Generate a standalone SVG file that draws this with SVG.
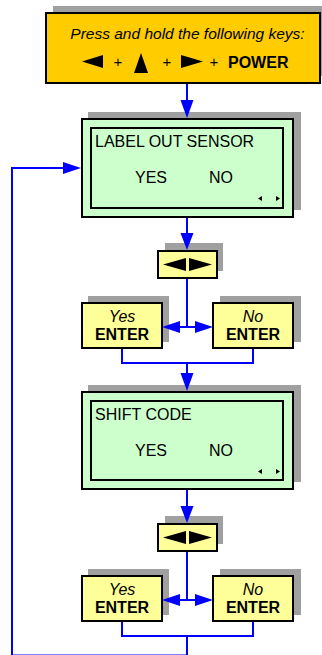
<svg xmlns="http://www.w3.org/2000/svg" width="322" height="655" viewBox="0 0 322 655">
<style>
text{font-family:"Liberation Sans",Arial,sans-serif;fill:#000}
.sh{fill:#a0a0a0}
.bx{stroke:#000;stroke-width:2}
.top{fill:#ffcc00}
.lcd{fill:#ccffcc}
.key{fill:#ffff99}
.c{stroke:#0000ff;stroke-width:2;fill:none}
.ah{fill:#0000ff}
.t15{font-size:16px}
.it{font-style:italic}
.b{font-weight:bold}
</style>
<rect width="322" height="655" fill="#fff"/>
<g id="start">
<rect class="sh" x="53" y="6" width="269" height="70"/>
<rect class="bx top" x="46" y="13" width="274" height="70"/>
<text x="187.5" y="39" font-size="15.5" font-style="italic" text-anchor="middle">Press and hold the following keys:</text>
<polygon points="82,61.5 103,55 103,68" fill="#000"/>
<text x="118" y="67" font-size="15" text-anchor="middle">+</text>
<polygon points="134,73 141,53 148,73" fill="#000"/>
<text x="167" y="67" font-size="15" text-anchor="middle">+</text>
<polygon points="181,55 203,61.5 181,68" fill="#000"/>
<text x="214" y="67" font-size="15" text-anchor="middle">+</text>
<text x="228" y="68" font-size="16" font-weight="bold">POWER</text>
</g>
<g id="lcd1">
<rect class="sh" x="88" y="112" width="213" height="98"/>
<rect class="bx lcd" x="82" y="119" width="211" height="98"/>
<rect class="bx lcd" x="91" y="128" width="192" height="80"/>
<text class="t15" x="95" y="147">LABEL OUT SENSOR</text>
<text class="t15" x="135" y="183">YES</text>
<text class="t15" x="209" y="183">NO</text>
<polygon points="258,198.5 262,196 262,201" fill="#000"/>
<polygon points="276,196 280,198.5 276,201" fill="#000"/>
</g>
<g id="nav1">
<rect class="sh" x="165" y="243" width="58" height="28"/>
<rect class="bx key" x="158" y="251" width="59" height="27"/>
<polygon points="163,264.5 186,258 186,271" fill="#000"/>
<polygon points="189,258 212,264.5 189,271" fill="#000"/>
</g>
<g id="yes1">
<rect class="sh" x="88" y="296" width="81" height="46"/>
<rect class="bx key" x="82" y="303" width="80" height="45"/>
<text class="t15 it" x="122" y="322" text-anchor="middle">Yes</text>
<text class="t15 b" x="122" y="340" text-anchor="middle">ENTER</text>
</g>
<g id="no1">
<rect class="sh" x="220" y="296" width="81" height="46"/>
<rect class="bx key" x="213" y="303" width="80" height="45"/>
<text class="t15 it" x="253" y="322" text-anchor="middle">No</text>
<text class="t15 b" x="253" y="340" text-anchor="middle">ENTER</text>
</g>
<g id="lcd2">
<rect class="sh" x="88" y="385" width="213" height="97"/>
<rect class="bx lcd" x="82" y="392" width="211" height="97"/>
<rect class="bx lcd" x="91" y="401" width="192" height="79"/>
<text class="t15" x="95" y="420">SHIFT CODE</text>
<text class="t15" x="135" y="456">YES</text>
<text class="t15" x="209" y="456">NO</text>
<polygon points="258,471.5 262,469 262,474" fill="#000"/>
<polygon points="276,469 280,471.5 276,474" fill="#000"/>
</g>
<g id="nav2">
<rect class="sh" x="165" y="516" width="58" height="28"/>
<rect class="bx key" x="158" y="524" width="59" height="27"/>
<polygon points="163,537.5 186,531 186,544" fill="#000"/>
<polygon points="189,531 212,537.5 189,544" fill="#000"/>
</g>
<g id="yes2">
<rect class="sh" x="88" y="569" width="81" height="46"/>
<rect class="bx key" x="82" y="576" width="80" height="45"/>
<text class="t15 it" x="122" y="595" text-anchor="middle">Yes</text>
<text class="t15 b" x="122" y="613" text-anchor="middle">ENTER</text>
</g>
<g id="no2">
<rect class="sh" x="220" y="569" width="81" height="46"/>
<rect class="bx key" x="213" y="576" width="80" height="45"/>
<text class="t15 it" x="253" y="595" text-anchor="middle">No</text>
<text class="t15 b" x="253" y="613" text-anchor="middle">ENTER</text>
</g>
<g id="connectors">
<line class="c" x1="187" y1="84" x2="187" y2="101"/>
<polygon class="ah" points="180.5,100 193.5,100 187,118"/>
<line class="c" x1="187" y1="218" x2="187" y2="234"/>
<polygon class="ah" points="180.5,233 193.5,233 187,250"/>
<line class="c" x1="187" y1="279" x2="187" y2="327"/>
<line class="c" x1="179" y1="327" x2="196" y2="327"/>
<polygon class="ah" points="162,327 180,321 180,333"/>
<polygon class="ah" points="213,327 195,321 195,333"/>
<polyline class="c" points="122,349 122,363 253,363 253,349"/>
<line class="c" x1="187" y1="363" x2="187" y2="375"/>
<polygon class="ah" points="180.5,373 193.5,373 187,391"/>
<line class="c" x1="187" y1="490" x2="187" y2="507"/>
<polygon class="ah" points="180.5,506 193.5,506 187,523"/>
<line class="c" x1="187" y1="552" x2="187" y2="600"/>
<line class="c" x1="179" y1="600" x2="196" y2="600"/>
<polygon class="ah" points="162,600 180,594 180,606"/>
<polygon class="ah" points="213,600 195,594 195,606"/>
<polyline class="c" points="122,622 122,636 253,636 253,622"/>
<polyline class="c" points="187,636 187,655.5 12,655.5 12,168 65,168"/>
<polygon class="ah" points="81,168 63,162 63,174"/>
</g>
</svg>
